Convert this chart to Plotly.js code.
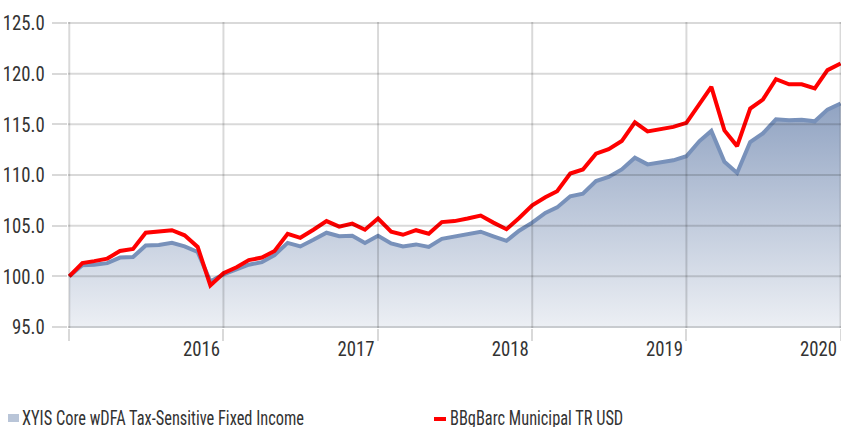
<!DOCTYPE html>
<html><head><meta charset="utf-8">
<script src="https://cdn.plot.ly/plotly-3.0.1.min.js"></script>
<style>html,body{margin:0;padding:0;background:#fff;overflow:hidden;} #chart{width:841px;height:427px;}</style>
</head><body><div id="chart"></div>
<script>
const dates = [
 '2015-01-01','2015-02-01','2015-03-01','2015-04-01','2015-05-01','2015-06-01','2015-07-01','2015-08-01','2015-09-01','2015-10-01','2015-11-01','2015-12-01',
 '2016-01-01','2016-02-01','2016-03-01','2016-04-01','2016-05-01','2016-06-01','2016-07-01','2016-08-01','2016-09-01','2016-10-01','2016-11-01','2016-12-01',
 '2017-01-01','2017-02-01','2017-03-01','2017-04-01','2017-05-01','2017-06-01','2017-07-01','2017-08-01','2017-09-01','2017-10-01','2017-11-01','2017-12-01',
 '2018-01-01','2018-02-01','2018-03-01','2018-04-01','2018-05-01','2018-06-01','2018-07-01','2018-08-01','2018-09-01','2018-10-01','2018-11-01','2018-12-01',
 '2019-01-01','2019-02-01','2019-03-01','2019-04-01','2019-05-01','2019-06-01','2019-07-01','2019-08-01','2019-09-01','2019-10-01','2019-11-01','2019-12-01',
 '2020-01-01'
];
const fundName = 'XYIS Core wDFA Tax-Sensitive Fixed Income';
const benchName = 'BBgBarc Municipal TR USD';
const fundValues = [
 100.0,101.1,101.15,101.3,101.85,101.9,103.05,103.1,103.3,102.95,102.4,99.5,
 100.2,100.65,101.15,101.4,102.1,103.3,102.95,103.6,104.3,103.95,104.0,103.3,
 104.0,103.25,102.95,103.15,102.9,103.7,103.9,104.2,104.4,103.95,103.5,104.5,
 105.3,106.25,106.8,107.9,108.15,109.4,109.8,110.55,111.7,111.05,111.3,111.45,
 111.85,113.35,114.35,111.3,110.2,113.25,114.1,115.5,115.4,115.45,115.3,116.45,
 117.05
];
const benchValues = [
 100.0,101.3,101.5,101.75,102.5,102.7,104.3,104.4,104.55,104.05,102.9,99.1,
 100.3,100.9,101.6,101.85,102.5,104.2,103.8,104.6,105.45,104.9,105.2,104.6,
 105.7,104.4,104.1,104.55,104.2,105.35,105.45,105.7,106.0,105.3,104.65,105.75,
 107.0,107.8,108.4,110.15,110.55,112.1,112.55,113.35,115.2,114.3,114.5,114.75,
 115.15,117.05,118.7,114.4,112.85,116.55,117.45,119.45,118.95,118.95,118.55,120.35,
 121.0
];
const yTickVals = [95,100,105,110,115,120,125];
const yTickText = ['95.0','100.0','105.0','110.0','115.0','120.0','125.0'];
const xTickVals = ['2015-01-01','2016-01-01','2017-01-01','2018-01-01','2019-01-01','2020-01-01'];
const xTickText = ['','2016','2017','2018','2019','2020'];

const FONT = "'Roboto Condensed','Liberation Sans Narrow',Roboto,sans-serif";
const GRID = 'rgba(0,0,0,0.15)';
const TXT = '#333333';

const traces = [
  {
    x: dates, y: fundValues, name: fundName, type: 'scatter', mode: 'lines',
    line: {color: '#7891ba', width: 4},
    fill: 'tozeroy',
    fillgradient: {type: 'vertical', start: 95, stop: 125,
      colorscale: [[0, 'rgb(236,239,244)'], [1, 'rgb(112,136,176)']]},
    hoverinfo: 'x+y'
  },
  {
    x: dates, y: benchValues, name: benchName, type: 'scatter', mode: 'lines',
    line: {color: '#ff0000', width: 4},
    hoverinfo: 'x+y'
  }
];

const shapes = [];
yTickVals.forEach(v => shapes.push({type:'line', layer:'above', xref:'paper', x0:0, x1:1, yref:'y', y0:v, y1:v, line:{color:GRID, width:2}}));
xTickVals.forEach(v => shapes.push({type:'line', layer:'above', xref:'x', x0:v, x1:v, yref:'paper', y0:0, y1:1, line:{color:GRID, width:2}}));
// legend keys
shapes.push({type:'rect', xref:'paper', yref:'paper', x0:(8-68)/773, x1:(19-68)/773, y0:(328-422)/306, y1:(328-414)/306, fillcolor:'#b9c5d8', line:{width:0}});
shapes.push({type:'rect', xref:'paper', yref:'paper', x0:(434-68)/773, x1:(446-68)/773, y0:(328-421)/306, y1:(328-417)/306, fillcolor:'#ff0000', line:{width:0}});

const annotations = [
  {xref:'paper', yref:'paper', x:(20-68)/773, y:(328-418)/306, xanchor:'left', yanchor:'middle', text:fundName, showarrow:false, font:{family:FONT, size:21, color:TXT}},
  {xref:'paper', yref:'paper', x:(448-68)/773, y:(328-418)/306, xanchor:'left', yanchor:'middle', text:benchName, showarrow:false, font:{family:FONT, size:21, color:TXT}}
];

const layout = {
  width: 841, height: 427,
  margin: {l: 68, r: 0, t: 22, b: 99, pad: 0},
  paper_bgcolor: '#ffffff', plot_bgcolor: '#ffffff',
  showlegend: false,
  font: {family: FONT, size: 21, color: TXT},
  xaxis: {
    type: 'date', range: ['2014-12-29', '2020-01-02'],
    tickmode: 'array', tickvals: xTickVals, ticktext: xTickText,
    showgrid: false, zeroline: false, showline: false,
    ticks: 'outside', ticklen: 12, tickwidth: 2, tickcolor: '#d9d9d9',
    ticklabelshift: -22, ticklabelstandoff: -10,
    tickfont: {family: FONT, size: 21, color: TXT}
  },
  yaxis: {
    range: [94.9, 125.1],
    tickmode: 'array', tickvals: yTickVals, ticktext: yTickText,
    showgrid: false, zeroline: false, showline: false,
    ticks: 'outside', ticklen: 15, tickwidth: 2, tickcolor: '#d9d9d9',
    ticklabelstandoff: 3,
    tickfont: {family: FONT, size: 21, color: TXT}
  },
  shapes: shapes,
  annotations: annotations
};

Plotly.newPlot('chart', traces, layout, {displayModeBar: false, staticPlot: true}).then(gd => {
  // condense texts horizontally to mimic the narrow typeface of the reference
  let ref = null, tickRef = null;
  gd.querySelectorAll('text.annotation-text').forEach(t => { if (t.textContent === fundName) ref = t; });
  gd.querySelectorAll('g.xtick text').forEach(t => { if (t.textContent === '2016') tickRef = t; });
  const fAnn = ref ? 282 / ref.getComputedTextLength() : 0.75;
  const fTick = tickRef ? 37 / tickRef.getComputedTextLength() : fAnn;
  gd.querySelectorAll('svg text').forEach(t => {
    const L = t.getComputedTextLength();
    if (!L) return;
    const isAnn = t.classList.contains('annotation-text');
    const isTick = !!t.closest('g.xtick, g.ytick');
    const f = isTick ? fTick : fAnn;
    const before = t.getBoundingClientRect().left;
    t.setAttribute('textLength', (L * f).toFixed(2));
    t.setAttribute('lengthAdjust', 'spacingAndGlyphs');
    if (isAnn) {
      const after = t.getBoundingClientRect().left;
      const x = parseFloat(t.getAttribute('x') || '0');
      t.setAttribute('x', (x + (before - after)).toFixed(2));
    }
  });
});
</script></body></html>
